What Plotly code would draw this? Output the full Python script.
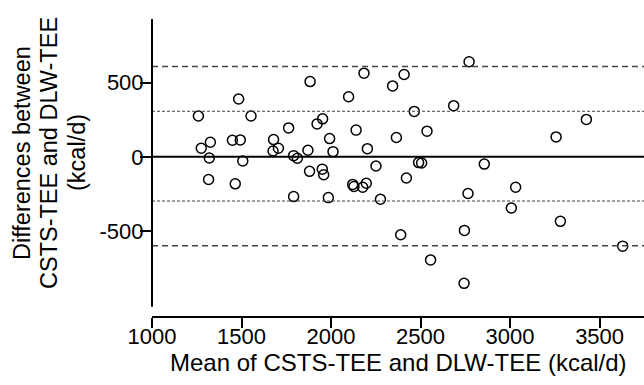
import plotly.graph_objects as go

# Bland-Altman data: mean of methods (x) and difference (y), kcal/d
mean_tee = [1259, 1484, 1553, 1275, 1326, 1320, 1449, 1493, 1507, 1316,
            1465, 1679, 1676, 1706, 1763, 1791, 1812, 1871, 1883, 1922,
            1953, 1992, 2011, 1880, 1951, 1959, 1791, 1985, 2098, 2140,
            2184, 2203, 2251, 2121, 2128, 2177, 2197, 2276, 2344, 2365,
            2408, 2771, 2465, 2685, 2536, 3257, 3426, 2489, 2506, 2856,
            2421, 2765, 3031, 3007, 3281, 2389, 2745, 2556, 2743, 3629]
diff_tee = [275, 390, 275, 58, 98, -8, 112, 114, -28, -153,
            -182, 116, 39, 58, 195, 8, -10, 44, 507, 222,
            256, 123, 35, -98, -83, -121, -268, -275, 405, 180,
            564, 55, -62, -186, -200, -205, -178, -286, 478, 130,
            555, 641, 306, 345, 173, 134, 252, -39, -42, -49,
            -143, -247, -205, -345, -435, -525, -496, -695, -853, -602]

x_ticks = [1000, 1500, 2000, 2500, 3000, 3500]
y_ticks = [-500, 0, 500]
y_tick_text = ["-500", "0", "500"]
limits_2sd = [608, -600]   # dashed
limits_1sd = [307, -298]   # dotted
zero_line = 0

x_title = "Mean of CSTS-TEE and DLW-TEE (kcal/d)"
y_title_lines = ["Differences between", "CSTS-TEE and DLW-TEE", "(kcal/d)"]

FONT = "Liberation Sans, Arial, sans-serif"

fig = go.Figure()
fig.add_trace(go.Scatter(
    x=mean_tee, y=diff_tee, mode="markers",
    marker=dict(symbol="circle-open", size=10, color="black",
                line=dict(width=1.5, color="black")),
    showlegend=False, hoverinfo="x+y"))

shapes = []
for v in limits_2sd:
    shapes.append(dict(type="line", xref="paper", x0=0, x1=1, yref="y", y0=v, y1=v,
                       line=dict(color="#444444", width=1.5, dash="6px,4px")))
for v in limits_1sd:
    shapes.append(dict(type="line", xref="paper", x0=0, x1=1, yref="y", y0=v, y1=v,
                       line=dict(color="#444444", width=1, dash="3px,2px")))
shapes.append(dict(type="line", xref="paper", x0=0, x1=1, yref="y", y0=zero_line, y1=zero_line,
                   line=dict(color="black", width=2)))
# y axis line (offset style, stops above the x axis)
shapes.append(dict(type="line", xref="paper", x0=0, x1=0, yref="y", y0=-1011, y1=929,
                   line=dict(color="black", width=2)))

annotations = []
for t, px in zip(y_title_lines, [22, 49, 77]):
    annotations.append(dict(text=t, xref="paper", yref="paper",
                            x=(px - 152) / 492, y=(316 - 153) / 297,
                            xanchor="center", yanchor="middle", textangle=-90,
                            showarrow=False, font=dict(size=23.5, family=FONT, color="black")))
annotations.append(dict(text=x_title, xref="paper", yref="paper",
                        x=0.5, y=(316 - 362) / 297, xanchor="center", yanchor="middle",
                        showarrow=False, font=dict(size=24, family=FONT, color="black")))

fig.update_layout(
    width=644, height=385,
    margin=dict(l=152, r=0, t=19, b=69),
    paper_bgcolor="white", plot_bgcolor="white",
    font=dict(family=FONT, size=22, color="black"),
    shapes=shapes, annotations=annotations,
    xaxis=dict(range=[1000, 3748], tickvals=x_ticks, ticks="outside", ticklen=10,
               tickwidth=2, tickcolor="black", showline=True, linewidth=2,
               linecolor="black", showgrid=False, zeroline=False,
               ticklabelstandoff=-10,
               tickfont=dict(size=22, family=FONT, color="black")),
    yaxis=dict(range=[-1073, 929], tickvals=y_ticks, ticktext=y_tick_text,
               ticks="outside", ticklen=11,
               tickwidth=2, tickcolor="black", showline=False, showgrid=False,
               zeroline=False, ticklabelstandoff=-8,
               tickfont=dict(size=22, family=FONT, color="black")),
)

fig.write_html("out.html")
